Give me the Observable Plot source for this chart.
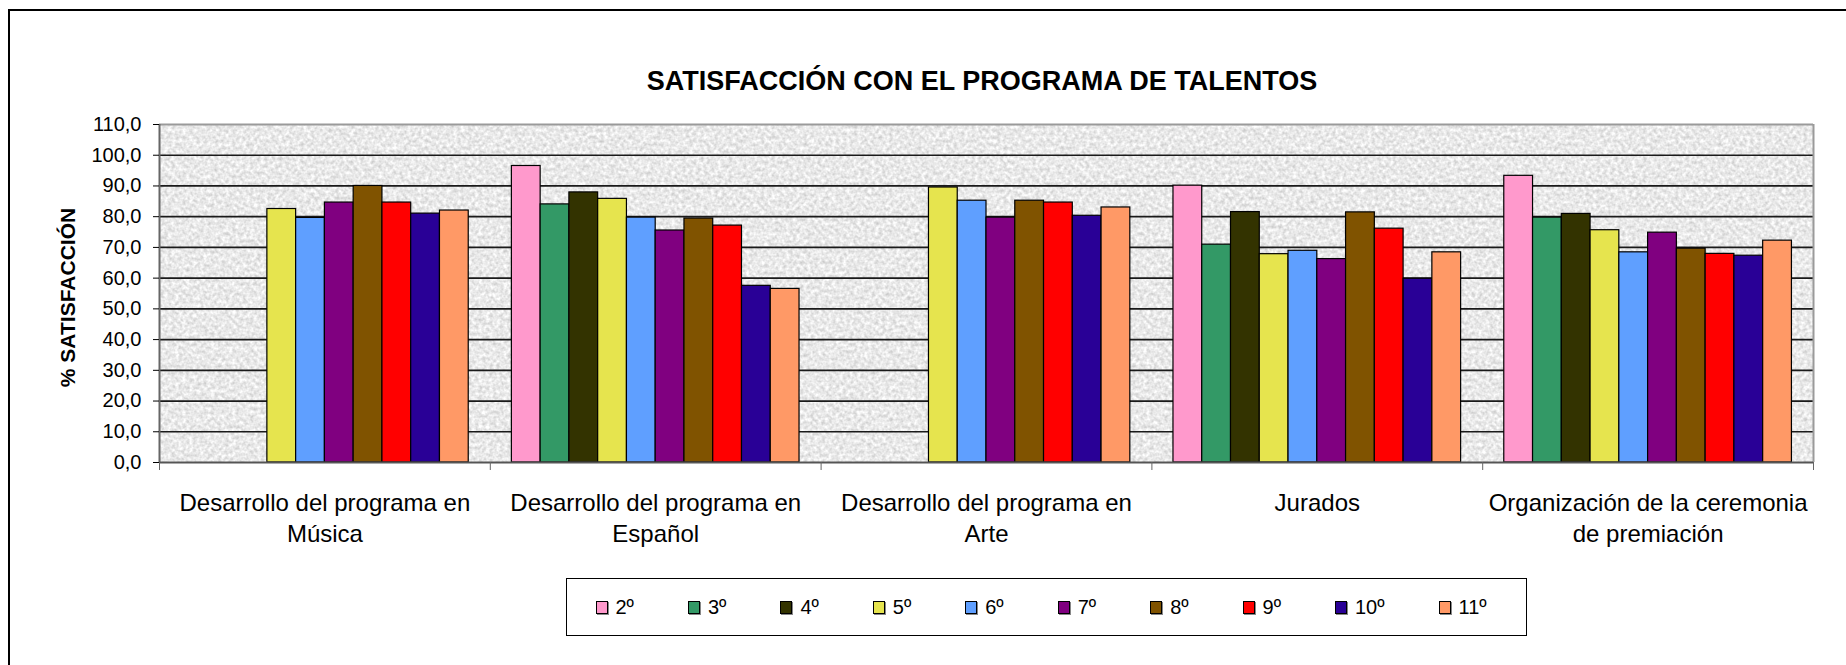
<!DOCTYPE html>
<html>
<head>
<meta charset="utf-8">
<script src="https://cdn.jsdelivr.net/npm/d3@7"></script>
<script src="https://cdn.jsdelivr.net/npm/@observablehq/plot@0.6"></script>
<style>
html, body { margin: 0; padding: 0; background: #fff; overflow: hidden; }
#wrap { position: relative; width: 1846px; height: 665px; overflow: hidden; font-family: "Liberation Sans", Arial, sans-serif; color: #000; }
#frame { position: absolute; left: 8px; top: 9px; width: 1900px; height: 720px; border: 2px solid #000; box-sizing: border-box; }
#title { position: absolute; left: 582px; width: 800px; top: 66px; text-align: center; font-weight: bold; font-size: 27px; line-height: 30px; white-space: nowrap; }
#chart { position: absolute; left: 0; top: 0; }
#legend { position: absolute; left: 566px; top: 578px; width: 961px; height: 58px; box-sizing: border-box; border: 1.5px solid #000; display: flex; align-items: center; padding-left: 28.5px; background: #fff; }
.item { display: flex; align-items: center; margin-right: 54px; font-size: 20px; line-height: 20px; }
.sw { width: 12px; height: 13px; border: 1px solid #000; box-sizing: border-box; margin-right: 8px; box-shadow: 1px 1px 0 #888; }
</style>
</head>
<body>
<div id="wrap">
  <div id="frame"></div>
  <div id="title">SATISFACCIÓN CON EL PROGRAMA DE TALENTOS</div>
  <div id="chart"></div>
  <div id="legend"></div>
</div>
<script>
// ---- data ----
const categories = [
  "Desarrollo del programa en Música",
  "Desarrollo del programa en Español",
  "Desarrollo del programa en Arte",
  "Jurados",
  "Organización de la ceremonia de premiación"
];
const categoryLabels = [
  "Desarrollo del programa en\nMúsica",
  "Desarrollo del programa en\nEspañol",
  "Desarrollo del programa en\nArte",
  "Jurados",
  "Organización de la ceremonia\nde premiación"
];
const grades = ["2º", "3º", "4º", "5º", "6º", "7º", "8º", "9º", "10º", "11º"];
const gradeColors = ["#FF99CC", "#339966", "#333300", "#E6E44E", "#5F9FFF", "#800080", "#805300", "#FF0000", "#290096", "#FF9966"];

const musica       = [null, null, null, 82.5, 79.6, 84.6, 90.0, 84.6, 81.0, 82.0];
const espanol      = [96.5, 84.0, 87.9, 85.8, 79.7, 75.5, 79.4, 77.1, 57.5, 56.5];
const arte         = [null, null, null, 89.5, 85.2, 79.7, 85.2, 84.6, 80.3, 83.0];
const jurados      = [90.1, 70.9, 81.5, 67.8, 68.9, 66.2, 81.4, 76.1, 59.8, 68.4];
const organizacion = [93.3, 79.7, 80.9, 75.6, 68.4, 74.8, 69.6, 67.9, 67.3, 72.2];

const yTicks = [0, 10, 20, 30, 40, 50, 60, 70, 80, 90, 100, 110];
const yLabel = "% SATISFACCIÓN";

// ---- build ----
const seriesByCategory = [musica, espanol, arte, jurados, organizacion];
const rows = categories.flatMap((c, ci) =>
  seriesByCategory[ci].map((v, gi) => ({category: c, ci, grade: grades[gi], gi, value: v}))
).filter(d => d.value != null);

const GAP = 0.75; // half of Excel's 150% gap width, in bar widths
const SLOTS = grades.length + 2 * GAP;
const fmt = d => d.toFixed(1).replace(".", ",");

const chart = Plot.plot({
  width: 1846,
  height: 665,
  marginLeft: 159,
  marginRight: 33,
  marginTop: 124,
  marginBottom: 203,
  style: {fontFamily: '"Liberation Sans", Arial, sans-serif', fontSize: "20px", color: "#000", background: "transparent", overflow: "visible"},
  x: {type: "linear", domain: [0, categories.length], axis: null},
  y: {domain: [0, 110], axis: null},
  color: {domain: grades, range: gradeColors},
  marks: [
    Plot.frame({fill: "#e9e9e9", stroke: null}),
    Plot.ruleY(yTicks.filter(t => t > 0 && t < 110), {stroke: "#1a1a1a", strokeWidth: 1.7}),
    Plot.ruleY([110], {stroke: "#9a9a9a", strokeWidth: 2}),
    Plot.ruleX([categories.length], {y1: 0, y2: 110, stroke: "#9a9a9a", strokeWidth: 2}),
    Plot.ruleX([0], {y1: 0, y2: 110, stroke: "#666", strokeWidth: 2}),
    Plot.rect(rows, {
      x1: d => d.ci + (GAP + d.gi) / SLOTS,
      x2: d => d.ci + (GAP + d.gi + 1) / SLOTS,
      y1: 0,
      y2: "value",
      fill: "grade",
      stroke: "#000",
      strokeWidth: 1.2
    }),
    Plot.ruleY([0], {stroke: "#555", strokeWidth: 2}),
    Plot.axisY({ticks: yTicks, tickSize: 6, tickPadding: 12, tickFormat: fmt, fontSize: 20, label: null}),
    Plot.axisX({ticks: d3.range(0, categories.length + 1), tickSize: 8, tickFormat: () => "", label: null, stroke: "#666"}),
    Plot.text(categoryLabels, {x: (d, i) => i + 0.5, frameAnchor: "bottom", lineAnchor: "top", dy: 27, fontSize: 24, lineHeight: 1.29}),
    Plot.text([yLabel], {frameAnchor: "left", textAnchor: "middle", rotate: -90, dx: -91, dy: 4, fontWeight: "bold", fontSize: 21})
  ]
});

// granite-like texture for the plot area background
const NS = "http://www.w3.org/2000/svg";
const defs = document.createElementNS(NS, "defs");
defs.innerHTML = `
  <filter id="granite" x="0" y="0" width="1" height="1" color-interpolation-filters="sRGB">
    <feTurbulence type="fractalNoise" baseFrequency="0.28" numOctaves="2" seed="7"/>
    <feColorMatrix type="matrix" values="0.32 0 0 0 0.755  0.32 0 0 0 0.755  0.32 0 0 0 0.755  0 0 0 0 1"/>
  </filter>`;
chart.insertBefore(defs, chart.firstChild);
const frameRect = chart.querySelector('rect[aria-label="frame"]') || chart.querySelector('g[aria-label="frame"] rect');
if (frameRect) frameRect.setAttribute("filter", "url(#granite)");

document.getElementById("chart").appendChild(chart);

// legend
const legend = document.getElementById("legend");
grades.forEach((g, i) => {
  const item = document.createElement("div");
  item.className = "item";
  const sw = document.createElement("div");
  sw.className = "sw";
  sw.style.background = gradeColors[i];
  const t = document.createElement("span");
  t.textContent = g;
  item.appendChild(sw);
  item.appendChild(t);
  legend.appendChild(item);
});
</script>
</body>
</html>
